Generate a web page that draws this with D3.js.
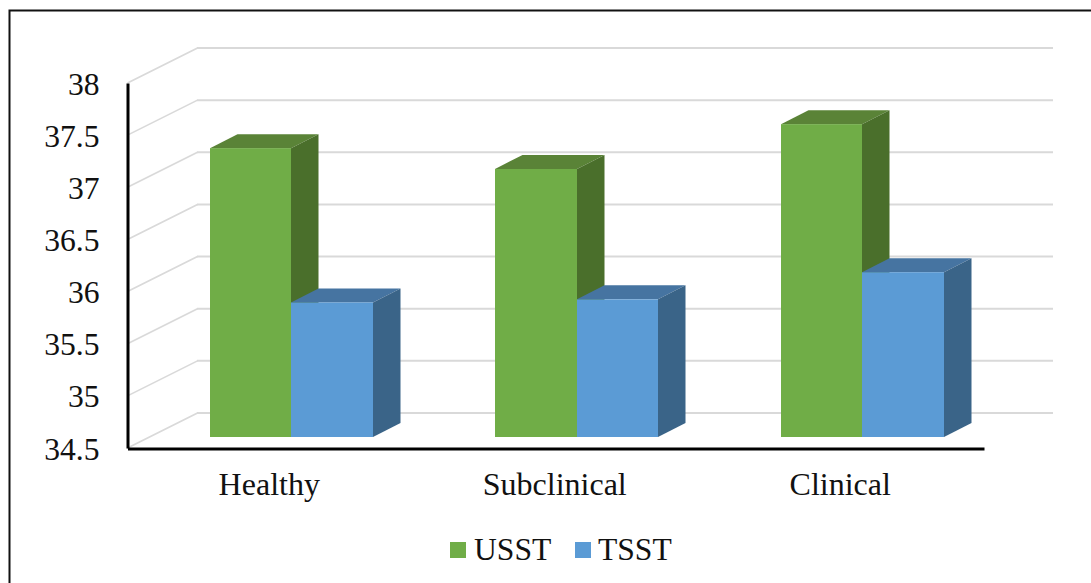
<!DOCTYPE html>
<html>
<head>
<meta charset="utf-8">
<script src="https://cdn.jsdelivr.net/npm/d3@7"></script>
<style>
  html, body { margin: 0; padding: 0; background: #fff; overflow: hidden; }
  svg { display: block; }
  text { font-family: "Liberation Serif", "Times New Roman", serif; fill: #111; }
</style>
</head>
<body>
<svg id="chart" width="1091" height="583"></svg>
<script>
// Values of the clustered 3-D column chart
const categories = ["Healthy", "Subclinical", "Clinical"];
const seriesNames = ["USST", "TSST"];
const usstValues = [37.27, 37.07, 37.5];
const tsstValues = [35.79, 35.82, 36.08];
const tickValues = [34.5, 35, 35.5, 36, 36.5, 37, 37.5, 38];

const seriesValues = [usstValues, tsstValues];
const frontColors = ["#70ad47", "#5b9bd5"];
const topColors = ["#5a8337", "#4674a1"];
const sideColors = ["#4a6f2b", "#3a6488"];

const svg = d3.select("#chart");
const fontSize = 31.6;

// Frame around the chart area (runs off the right and bottom edges)
svg.append("path")
  .attr("d", "M9.5,583V10.5H1091")
  .attr("fill", "none")
  .attr("stroke", "#111")
  .attr("stroke-width", 2);

// Front plane scales
const y = d3.scaleLinear().domain([34.5, 38]).range([448, 83]);
const x = d3.scaleBand().domain(categories).range([127.5, 984]);
const barWidth = 81.5;
const bar = d3.scaleBand().domain(d3.range(seriesNames.length))
  .range([-barWidth, barWidth]);

// Depth offsets: the back wall, the front of the columns, and the column depth
const wall = { dx: 70, dy: -35 };
const inset = { dx: 21, dy: -11 };
const depth = { dx: 27.5, dy: -14 };

// Back wall and side wall gridlines
const grid = svg.append("g").attr("fill", "none").attr("stroke", "#d9d9d9");
grid.selectAll("path.wall").data(tickValues).join("path")
  .attr("class", "wall")
  .attr("stroke-width", 2)
  .attr("d", d => `M${127 + wall.dx},${y(d) + wall.dy}H1053`);
grid.selectAll("path.side").data(tickValues).join("path")
  .attr("class", "side")
  .attr("stroke-width", 1.6)
  .attr("d", d => `M127.5,${y(d)}L${127.5 + wall.dx},${y(d) + wall.dy}`);

// Columns: front, top and side faces, snapped to whole pixels so adjoining faces meet cleanly
const base = y(34.5) + inset.dy;
const columns = svg.append("g");
categories.forEach((cat, i) => {
  seriesNames.forEach((name, s) => {
    const x0 = Math.round(x(cat) + x.bandwidth() / 2 + inset.dx + bar(s));
    const x1 = Math.round(x(cat) + x.bandwidth() / 2 + inset.dx + bar(s) + barWidth);
    const top = y(seriesValues[s][i]) + inset.dy;
    const g = columns.append("g").attr("class", "column");
    g.append("polygon")
      .attr("fill", topColors[s])
      .attr("points", [[x0, top], [x1, top], [x1 + depth.dx, top + depth.dy], [x0 + depth.dx, top + depth.dy]].join(" "));
    g.append("polygon")
      .attr("fill", sideColors[s])
      .attr("points", [[x1, top], [x1 + depth.dx, top + depth.dy], [x1 + depth.dx, base + depth.dy], [x1, base]].join(" "));
    g.append("rect")
      .attr("x", x0).attr("y", top)
      .attr("width", x1 - x0).attr("height", base - top)
      .attr("fill", frontColors[s]);
  });
});

// Value axis
const yAxis = svg.append("g")
  .attr("transform", "translate(127.5,0)")
  .call(d3.axisLeft(y).tickValues(tickValues).tickFormat(d3.format("~g")).tickSize(0).tickPadding(28));
yAxis.select(".domain").attr("stroke", "#000").attr("stroke-width", 3);
yAxis.selectAll("text")
  .attr("font-size", fontSize)
  .attr("font-family", null)
  .attr("dy", "0.35em");

// Category axis
const xAxis = svg.append("g")
  .attr("transform", "translate(0,448.5)")
  .call(d3.axisBottom(x).tickSize(0).tickPadding(24));
xAxis.select(".domain").attr("stroke", "#000").attr("stroke-width", 3);
xAxis.selectAll("text")
  .attr("font-size", 32)
  .attr("font-family", null)
  .attr("dx", -1)
  .attr("dy", "0.71em");

// Legend
const legendKeys = [450, 575];
const legend = svg.append("g");
seriesNames.forEach((name, s) => {
  legend.append("rect")
    .attr("x", legendKeys[s]).attr("y", 542)
    .attr("width", 16).attr("height", 16)
    .attr("fill", frontColors[s]);
  legend.append("text")
    .attr("x", legendKeys[s] + (s ? 23 : 24)).attr("y", 560)
    .attr("font-size", fontSize)
    .text(name);
});
</script>
</body>
</html>
